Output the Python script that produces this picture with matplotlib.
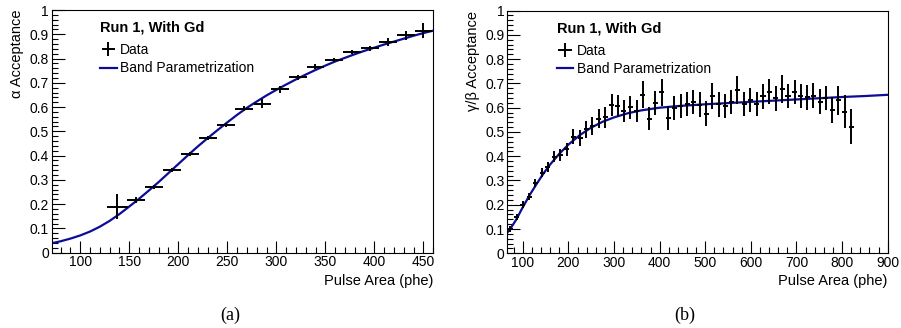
import matplotlib
matplotlib.use("Agg")
import matplotlib.pyplot as plt
from matplotlib.ticker import MultipleLocator, FuncFormatter
from matplotlib.lines import Line2D

plt.rcParams['font.family'] = ['Liberation Sans', 'DejaVu Sans']

# ---------------- (a) alpha acceptance ----------------
alpha_x = [138.0, 157.1, 175.1, 193.8, 212.2, 230.5, 248.9, 267.2, 285.8,
           303.8, 321.9, 339.8, 358.9, 376.9, 395.6, 413.6, 431.9, 449.9]
alpha_y = [0.190, 0.216, 0.272, 0.339, 0.407, 0.471, 0.527, 0.593, 0.614,
           0.673, 0.723, 0.766, 0.795, 0.826, 0.842, 0.868, 0.896, 0.915]
alpha_yerr = [0.053, 0.012, 0.008, 0.008, 0.008, 0.008, 0.008, 0.010, 0.019,
              0.015, 0.010, 0.010, 0.008, 0.008, 0.010, 0.016, 0.019, 0.032]
alpha_xerr = [11, 9, 9, 9, 9, 9, 9, 9, 9, 9, 9, 9, 9, 9, 9, 9, 9, 9]

alpha_fit_x = [71, 80, 90, 100, 110, 120, 130, 140, 150, 160, 170, 180, 190,
               200, 210, 220, 230, 240, 250, 260, 270, 280, 290, 300, 310,
               320, 330, 340, 350, 360, 370, 380, 390, 400, 410, 420, 430,
               440, 450, 460]
alpha_fit_y = [0.039, 0.047, 0.058, 0.071, 0.087, 0.107, 0.131, 0.159, 0.190,
               0.222, 0.256, 0.291, 0.328, 0.365, 0.402, 0.438, 0.472, 0.505,
               0.537, 0.568, 0.597, 0.623, 0.648, 0.671, 0.693, 0.714, 0.734,
               0.753, 0.771, 0.788, 0.803, 0.818, 0.832, 0.845, 0.858, 0.870,
               0.882, 0.894, 0.905, 0.915]

# ---------------- (b) gamma/beta acceptance ----------------
gb_x = [72.3, 86.9, 100.0, 113.9, 127.8, 142.4, 154.8, 168.7, 182.5, 196.4,
        211.0, 225.6, 238.8, 252.7, 266.5, 280.4, 295.0, 308.2, 321.3, 335.9,
        349.8, 363.0, 377.6, 390.7, 404.6, 419.2, 432.4, 446.2, 460.1, 474.0,
        487.9, 501.7, 515.6, 529.5, 543.4, 557.3, 570.4, 585.0, 598.2, 612.8,
        626.6, 639.8, 654.4, 668.3, 681.4, 696.0, 709.2, 723.1, 736.9, 751.6,
        764.7, 778.6, 791.7, 806.3, 820.2]
gb_y = [0.099, 0.148, 0.200, 0.234, 0.291, 0.332, 0.357, 0.398, 0.404, 0.429,
        0.481, 0.475, 0.511, 0.525, 0.555, 0.560, 0.611, 0.606, 0.586, 0.602,
        0.586, 0.653, 0.555, 0.620, 0.663, 0.556, 0.598, 0.607, 0.615, 0.623,
        0.613, 0.576, 0.648, 0.614, 0.606, 0.623, 0.673, 0.615, 0.633, 0.614,
        0.647, 0.666, 0.638, 0.678, 0.647, 0.665, 0.648, 0.642, 0.650, 0.625,
        0.640, 0.590, 0.630, 0.584, 0.522]
gb_yerr = [0.012, 0.012, 0.014, 0.015, 0.017, 0.019, 0.020, 0.023, 0.025, 0.027,
           0.032, 0.033, 0.034, 0.036, 0.040, 0.042, 0.045, 0.046, 0.046, 0.047,
           0.047, 0.055, 0.048, 0.050, 0.057, 0.050, 0.050, 0.050, 0.050, 0.050,
           0.050, 0.050, 0.055, 0.052, 0.050, 0.050, 0.058, 0.050, 0.050, 0.050,
           0.052, 0.052, 0.050, 0.057, 0.050, 0.050, 0.050, 0.050, 0.050, 0.050,
           0.050, 0.055, 0.060, 0.068, 0.072]
gb_xerr = [5.5] * len(gb_x)

gb_fit_x = [66, 75, 85, 100, 115, 130, 145, 160, 180, 200, 225, 250, 275, 300,
            330, 360, 400, 450, 500, 550, 600, 650, 700, 750, 800, 850, 900]
gb_fit_y = [0.085, 0.108, 0.137, 0.19, 0.24, 0.285, 0.328, 0.366, 0.410,
            0.448, 0.487, 0.518, 0.542, 0.560, 0.577, 0.589, 0.600, 0.608,
            0.614, 0.619, 0.624, 0.629, 0.634, 0.639, 0.644, 0.648, 0.653]

legend_title = "Run 1, With Gd"
labels_series = ["Data", "Band Parametrization"]
fit_color = '#0c0c96'

W, H = 901, 328
fig = plt.figure(figsize=(W / 100, H / 100), dpi=100)

ax1 = fig.add_axes([51.7 / W, (H - 252.7) / H, (433.3 - 51.7) / W, 242.7 / H])
ax2 = fig.add_axes([507.3 / W, (H - 253.3) / H, (887.7 - 507.3) / W, 242.7 / H])

fmt = FuncFormatter(lambda v, p: ('%g' % round(v, 3)))


def style(ax, xlim, xmaj, xmin):
    ax.set_ylim(0, 1)
    ax.set_xlim(*xlim)
    ax.yaxis.set_major_locator(MultipleLocator(0.1))
    ax.yaxis.set_minor_locator(MultipleLocator(0.02))
    ax.xaxis.set_major_locator(MultipleLocator(xmaj))
    ax.xaxis.set_minor_locator(MultipleLocator(xmin))
    ax.yaxis.set_major_formatter(fmt)
    ax.tick_params(which='both', direction='in', top=False, right=False,
                   labelsize=10, pad=2, width=0.8, color='black')
    ax.tick_params(which='major', length=9)
    ax.tick_params(which='minor', length=4.5)
    for s in ax.spines.values():
        s.set_linewidth(0.8)


def legend(ax, x0):
    h_data = ax.errorbar([], [], xerr=[], yerr=[], fmt='none', ecolor='black',
                         elinewidth=1.4)
    h_fit = Line2D([], [], color=fit_color, lw=1.6)
    leg = ax.legend([h_data, h_fit], labels_series, title=legend_title,
                    loc='upper left', bbox_to_anchor=(x0, 0.955),
                    frameon=False, fontsize=10, handlelength=1.2,
                    handletextpad=0.25, labelspacing=0.3, borderaxespad=0,
                    borderpad=0,
                    title_fontproperties={'weight': 'bold', 'size': 10.5})
    leg._legend_box.align = "left"
    leg._legend_box.sep = 6


# (a)
ax1.errorbar(alpha_x, alpha_y, xerr=alpha_xerr, yerr=alpha_yerr, fmt='none',
             ecolor='black', elinewidth=1.4, zorder=3)
ax1.plot(alpha_fit_x, alpha_fit_y, color=fit_color, lw=1.6, zorder=2)
style(ax1, (71, 460), 50, 10)
ax1.set_ylabel("α Acceptance", fontsize=10.5, loc='top', labelpad=4)
ax1.set_xlabel("Pulse Area (phe)", fontsize=10.5, loc='right', labelpad=3)
legend(ax1, 0.127)

# (b)
ax2.errorbar(gb_x, gb_y, xerr=gb_xerr, yerr=gb_yerr, fmt='none',
             ecolor='black', elinewidth=1.4, zorder=3)
ax2.plot(gb_fit_x, gb_fit_y, color=fit_color, lw=1.6, zorder=2)
style(ax2, (66, 900), 100, 20)
ax2.set_ylabel("γ/β Acceptance", fontsize=10.5, loc='top', labelpad=4)
ax2.set_xlabel("Pulse Area (phe)", fontsize=10.5, loc='right', labelpad=3)
legend(ax2, 0.13)

fig.text(230 / W, 1 - 315 / H, "(a)", family='Liberation Serif', fontsize=13,
         ha='center', va='center')
fig.text(685 / W, 1 - 315 / H, "(b)", family='Liberation Serif', fontsize=13,
         ha='center', va='center')

fig.savefig("out.png", dpi=100)
